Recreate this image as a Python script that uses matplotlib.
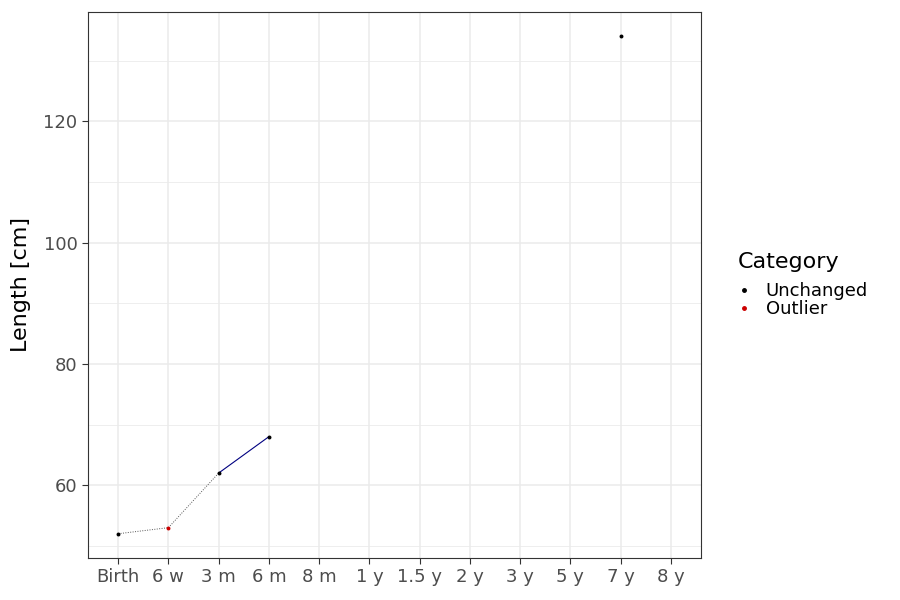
import matplotlib.pyplot as plt
from matplotlib.lines import Line2D

ages = ["Birth", "6 w", "3 m", "6 m", "8 m", "1 y", "1.5 y", "2 y", "3 y", "5 y", "7 y", "8 y"]
point_ages = ["Birth", "6 w", "3 m", "6 m", "7 y"]
lengths = [52, 53, 62, 68, 134]
categories = ["Unchanged", "Outlier", "Unchanged", "Unchanged", "Unchanged"]
# line segments: (from, to, style)
segments = [("Birth", "6 w", "dotted"), ("6 w", "3 m", "dotted"), ("3 m", "6 m", "solid")]

colors = {"Unchanged": "black", "Outlier": "#cc0000"}
pos = {a: i for i, a in enumerate(ages)}
val = dict(zip(point_ages, lengths))

fig = plt.figure(figsize=(9, 6), dpi=100)
ax = fig.add_axes([88/900, 42/600, 613/900, 546/600])

for a, b, style in segments:
    if style == "dotted":
        ax.plot([pos[a], pos[b]], [val[a], val[b]], color="#555555", lw=0.7, ls=(0, (1, 1.5)), zorder=2)
    else:
        ax.plot([pos[a], pos[b]], [val[a], val[b]], color="#000080", lw=0.8, zorder=2)

for a, v, c in zip(point_ages, lengths, categories):
    ax.scatter(pos[a], v, s=8, color=colors[c], zorder=3, linewidths=0)

ax.set_xlim(-0.6, len(ages) - 0.4)
ax.set_ylim(48, 138)
ax.set_xticks(range(len(ages)))
ax.set_xticklabels(ages)
ax.set_yticks([60, 80, 100, 120])
ax.set_yticks([50, 70, 90, 110, 130], minor=True)
ax.grid(True, which="major", color="#ebebeb", lw=1.1)
ax.grid(True, which="minor", axis="y", color="#ebebeb", lw=0.6)
ax.set_axisbelow(True)
ax.tick_params(axis="both", which="major", labelsize=13, colors="#333333", length=4)
ax.tick_params(axis="y", which="minor", length=0)
for lab in ax.get_xticklabels() + ax.get_yticklabels():
    lab.set_color("#4d4d4d")
for sp in ax.spines.values():
    sp.set_color("#333333")
    sp.set_linewidth(0.8)
ax.set_ylabel("Length [cm]", fontsize=16, labelpad=9)

fig.text(738/900, 1 - 262/600, "Category", fontsize=16, va="center", ha="left")
handles = [Line2D([], [], marker="o", ls="", color=colors[k], markersize=2.5, label=k)
           for k in ["Unchanged", "Outlier"]]
fig.legend(handles=handles, loc="upper left", bbox_to_anchor=(735/900, 1 - 282/600),
           frameon=False, fontsize=13, handletextpad=0.7, labelspacing=0.0,
           handlelength=1.0, borderaxespad=0, borderpad=0)

fig.savefig("out.png", dpi=100)
